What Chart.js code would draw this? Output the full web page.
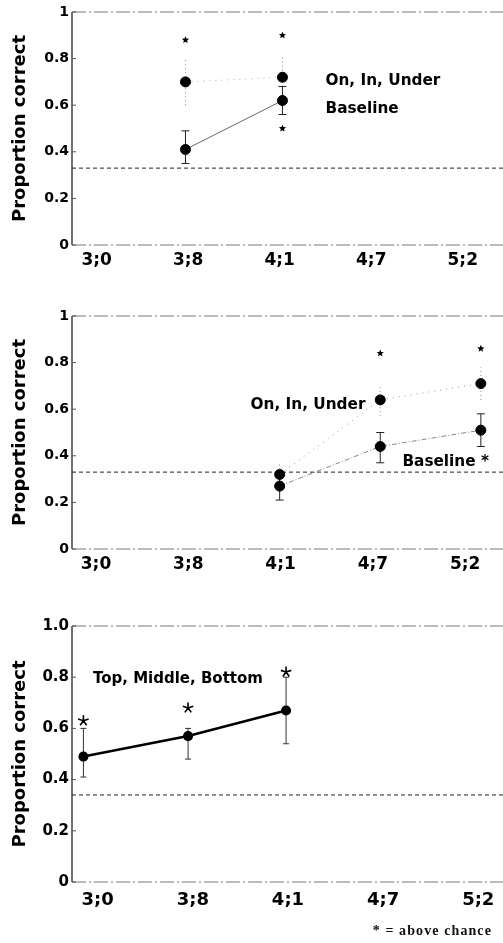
<!DOCTYPE html>
<html>
<head>
<meta charset="utf-8">
<script src="https://cdn.jsdelivr.net/npm/chart.js@4/dist/chart.umd.min.js"></script>
<style>
  body { margin: 0; background: #fff; }
  .wrap { position: relative; width: 503px; height: 943px; overflow: hidden; }
  canvas { position: absolute; left: 0; }
  .note { position: absolute; right: 11px; top: 923px; font: bold 14px "Liberation Serif", serif; letter-spacing: 1.1px; color: #111; }
</style>
</head>
<body>
<div class="wrap">
  <canvas id="c1" width="503" height="290" style="top:0"></canvas>
  <canvas id="c2" width="503" height="300" style="top:300px"></canvas>
  <canvas id="c3" width="503" height="333" style="top:610px"></canvas>
  <div class="note">* = above chance</div>
</div>
<script>
// Tick labels (age in years;months)
const ages = ['3;0', '3;8', '4;1', '4;7', '5;2'];
const ageTicks = [0, 1, 2, 3, 4];
const chance = 0.33;

// Panel 1
const p1X = [0.97, 2.03];
const p1Oiu = [0.70, 0.72];
const p1OiuLo = [0.60, 0.68];
const p1OiuHi = [0.80, 0.81];
const p1Base = [0.41, 0.62];
const p1BaseLo = [0.35, 0.56];
const p1BaseHi = [0.49, 0.68];
const p1StarX = [0.97, 2.03, 2.03];
const p1StarY = [0.88, 0.90, 0.50];

// Panel 2
const p2X = [1.99, 3.08, 4.17];
const p2Oiu = [0.32, 0.64, 0.71];
const p2OiuLo = [0.29, 0.57, 0.64];
const p2OiuHi = [0.37, 0.70, 0.78];
const p2Base = [0.27, 0.44, 0.51];
const p2BaseLo = [0.21, 0.37, 0.44];
const p2BaseHi = [0.31, 0.50, 0.58];
const p2StarX = [3.08, 4.17];
const p2StarY = [0.84, 0.86];

// Panel 3
const p3X = [-0.15, 0.95, 1.98];
const p3Tmb = [0.49, 0.57, 0.67];
const p3TmbLo = [0.41, 0.48, 0.54];
const p3TmbHi = [0.60, 0.60, 0.80];
const p3StarY = [0.63, 0.68, 0.82];

const FONT = '"DejaVu Sans", Verdana, sans-serif';

function pts(xs, ys) {
    return xs.map((x, i) => ({ x: x, y: ys[i] }));
}

function drawStar(ctx, x, y, r) {
    ctx.beginPath();
    for (let i = 0; i < 10; i++) {
        const a = -Math.PI / 2 + i * Math.PI / 5;
        const rr = i % 2 ? r * 0.45 : r;
        ctx.lineTo(x + rr * Math.cos(a), y + rr * Math.sin(a));
    }
    ctx.closePath();
    ctx.fill();
}

function drawAsterisk(ctx, x, y, r) {
    ctx.beginPath();
    for (let i = 0; i < 5; i++) {
        const a = -Math.PI / 2 + i * 2 * Math.PI / 5;
        ctx.moveTo(x, y);
        ctx.lineTo(x + r * Math.cos(a), y + r * Math.sin(a));
    }
    ctx.stroke();
}

// error bars, chance line, frame, stars, labels
const extras = {
    id: 'extras',
    beforeDatasetsDraw(chart) {
        const { ctx, chartArea: a, scales: { x, y } } = chart;
        const o = chart.options.plugins.extras;
        ctx.save();
        // chance line
        ctx.strokeStyle = '#222';
        ctx.lineWidth = 1;
        ctx.setLineDash([4, 3]);
        ctx.beginPath();
        ctx.moveTo(a.left, y.getPixelForValue(o.chance));
        ctx.lineTo(a.right, y.getPixelForValue(o.chance));
        ctx.stroke();
        // error bars
        o.bars.forEach(b => {
            ctx.strokeStyle = b.color;
            ctx.lineWidth = b.width;
            ctx.setLineDash(b.dash);
            b.xs.forEach((xv, i) => {
                const px = x.getPixelForValue(xv);
                const lo = y.getPixelForValue(b.lo[i]);
                const hi = y.getPixelForValue(b.hi[i]);
                ctx.beginPath();
                ctx.moveTo(px, lo);
                ctx.lineTo(px, hi);
                if (b.cap) {
                    ctx.moveTo(px - b.cap, lo); ctx.lineTo(px + b.cap, lo);
                    ctx.moveTo(px - b.cap, hi); ctx.lineTo(px + b.cap, hi);
                }
                ctx.stroke();
            });
        });
        ctx.restore();
    },
    afterDatasetsDraw(chart) {
        const { ctx, chartArea: a, scales: { x, y } } = chart;
        const o = chart.options.plugins.extras;
        ctx.save();
        // frame
        ctx.setLineDash([]);
        ctx.strokeStyle = '#111';
        ctx.lineWidth = 1.2;
        ctx.beginPath();
        ctx.moveTo(a.left, a.top);
        ctx.lineTo(a.left, a.bottom);
        ctx.stroke();
        ctx.strokeStyle = '#777';
        ctx.lineWidth = 1;
        ctx.setLineDash([14, 3, 2, 3]);
        ctx.beginPath();
        ctx.moveTo(a.left, a.top); ctx.lineTo(a.right, a.top);
        ctx.moveTo(a.left, a.bottom); ctx.lineTo(a.right, a.bottom);
        ctx.stroke();
        ctx.setLineDash([]);
        ctx.strokeStyle = '#555';
        y.ticks.forEach(t => {
            const py = y.getPixelForValue(t.value);
            ctx.beginPath();
            ctx.moveTo(a.left, py); ctx.lineTo(a.left + 4, py);
            ctx.stroke();
        });
        // stars
        ctx.fillStyle = '#000';
        ctx.strokeStyle = '#000';
        ctx.lineWidth = 1.6;
        o.stars.xs.forEach((xv, i) => {
            const px = x.getPixelForValue(xv);
            const py = y.getPixelForValue(o.stars.ys[i]);
            if (o.stars.kind === 'asterisk') drawAsterisk(ctx, px, py, 5.5);
            else drawStar(ctx, px, py, 3.8);
        });
        // labels
        ctx.fillStyle = '#000';
        ctx.textBaseline = 'middle';
        o.labels.forEach(l => {
            ctx.font = 'bold ' + l.size + 'px ' + FONT;
            ctx.textAlign = l.align;
            ctx.fillText(l.text, x.getPixelForValue(l.x), y.getPixelForValue(l.y));
        });
        ctx.restore();
    }
};

function makeChart(id, cfg) {
    const yFmt = cfg.yFmt;
    return new Chart(document.getElementById(id), {
        type: 'line',
        data: { datasets: cfg.datasets },
        options: {
            responsive: false,
            animation: false,
            layout: { autoPadding: false, padding: { top: cfg.top, right: 0, left: 0, bottom: 0 } },
            plugins: {
                legend: { display: false },
                tooltip: { enabled: false },
                extras: cfg.extras
            },
            scales: {
                x: {
                    type: 'linear',
                    min: cfg.xMin,
                    max: cfg.xMax,
                    afterBuildTicks: s => { s.ticks = ageTicks.map(v => ({ value: v })); },
                    afterFit: s => {
                        s.height = cfg.xHeight;
                        s.paddingLeft = 0;
                        s.paddingRight = 0;
                    },
                    grid: { display: false, drawTicks: false },
                    border: { display: false },
                    ticks: {
                        callback: v => ages[v],
                        autoSkip: false,
                        maxRotation: 0,
                        padding: cfg.xPad,
                        color: '#000',
                        font: { family: FONT, size: cfg.xSize, weight: 'bold' }
                    }
                },
                y: {
                    min: 0,
                    max: 1,
                    afterFit: s => { s.width = 72; },
                    grid: { display: false, drawTicks: false },
                    border: { display: false },
                    ticks: {
                        stepSize: 0.2,
                        padding: 3,
                        color: '#000',
                        callback: yFmt,
                        font: { family: FONT, size: cfg.ySize, weight: 'bold' }
                    },
                    title: {
                        display: true,
                        text: 'Proportion correct',
                        color: '#000',
                        padding: { top: 10, bottom: 0 },
                        font: { family: FONT, size: 18, weight: 'bold' }
                    }
                }
            }
        },
        plugins: [extras]
    });
}

const fmt12 = v => (v === 0 ? '0' : v === 1 ? '1' : v.toFixed(1));
const fmt3 = v => (v === 0 ? '0' : v.toFixed(1));

makeChart('c1', {
    top: 12, xMin: -0.27, xMax: 4.44, xHeight: 45, xPad: 5, xSize: 17, ySize: 14, yFmt: fmt12,
    datasets: [
        { data: pts(p1X, p1Oiu), borderColor: '#aaa', borderWidth: 1, borderDash: [1, 5],
          pointRadius: 5, pointBackgroundColor: '#000', pointBorderColor: '#000' },
        { data: pts(p1X, p1Base), borderColor: '#666', borderWidth: 1,
          pointRadius: 5, pointBackgroundColor: '#000', pointBorderColor: '#000' }
    ],
    extras: {
        chance: chance,
        bars: [
            { xs: p1X, lo: p1OiuLo, hi: p1OiuHi, color: '#888', width: 1, dash: [1, 3], cap: 0 },
            { xs: p1X, lo: p1BaseLo, hi: p1BaseHi, color: '#222', width: 1, dash: [], cap: 4 }
        ],
        stars: { xs: p1StarX, ys: p1StarY, kind: 'star' },
        labels: [
            { text: 'On, In, Under', x: 2.5, y: 0.705, align: 'left', size: 15.3 },
            { text: 'Baseline', x: 2.5, y: 0.585, align: 'left', size: 15.3 }
        ]
    }
});

makeChart('c2', {
    top: 16, xMin: -0.26, xMax: 4.41, xHeight: 51, xPad: 5, xSize: 17, ySize: 14, yFmt: fmt12,
    datasets: [
        { data: pts(p2X, p2Oiu), borderColor: '#999', borderWidth: 1, borderDash: [1, 5],
          pointRadius: 5, pointBackgroundColor: '#000', pointBorderColor: '#000' },
        { data: pts(p2X, p2Base), borderColor: '#888', borderWidth: 1, borderDash: [5, 2, 1, 2],
          pointRadius: 5, pointBackgroundColor: '#000', pointBorderColor: '#000' }
    ],
    extras: {
        chance: chance,
        bars: [
            { xs: p2X, lo: p2OiuLo, hi: p2OiuHi, color: '#888', width: 1, dash: [1, 3], cap: 0 },
            { xs: p2X, lo: p2BaseLo, hi: p2BaseHi, color: '#222', width: 1, dash: [], cap: 4 }
        ],
        stars: { xs: p2StarX, ys: p2StarY, kind: 'star' },
        labels: [
            { text: 'On, In, Under', x: 2.92, y: 0.618, align: 'right', size: 15.3 },
            { text: 'Baseline *', x: 3.32, y: 0.375, align: 'left', size: 15.3 }
        ]
    }
});

makeChart('c3', {
    top: 16, xMin: -0.27, xMax: 4.26, xHeight: 61, xPad: 8, xSize: 18, ySize: 15, yFmt: fmt3,
    datasets: [
        { data: pts(p3X, p3Tmb), borderColor: '#000', borderWidth: 2.5,
          pointRadius: 3.8, pointBackgroundColor: '#000', pointBorderColor: '#000' }
    ],
    extras: {
        chance: 0.34,
        bars: [
            { xs: p3X, lo: p3TmbLo, hi: p3TmbHi, color: '#333', width: 1, dash: [], cap: 3 }
        ],
        stars: { xs: p3X, ys: p3StarY, kind: 'asterisk' },
        labels: [
            { text: 'Top, Middle, Bottom', x: -0.05, y: 0.792, align: 'left', size: 15 }
        ]
    }
});
</script>
</body>
</html>
